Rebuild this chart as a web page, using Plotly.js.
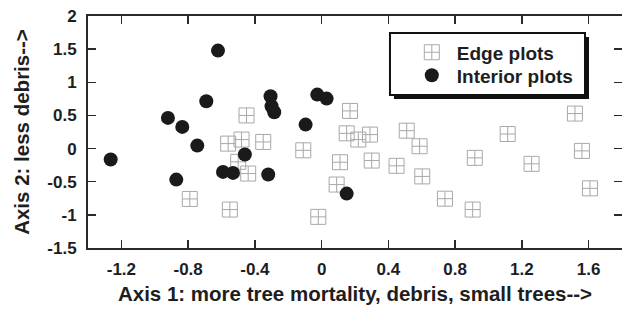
<!DOCTYPE html>
<html>
<head>
<meta charset="utf-8">
<script src="https://cdn.plot.ly/plotly-3.0.1.min.js"></script>
<style>
  html, body { margin: 0; padding: 0; background: #ffffff; }
  #chart { width: 622px; height: 312px; }
</style>
</head>
<body>
<div id="chart"></div>
<script>
// Edge plots (open squares with cross)
const edgeX = [-0.79, -0.55, -0.56, -0.48, -0.35, -0.45, -0.50, -0.44, -0.11, -0.02,
               0.09, 0.11, 0.17, 0.15, 0.22, 0.29, 0.30, 0.51, 0.587, 0.449,
               0.603, 0.739, 0.905, 0.918, 1.115, 1.258, 1.518, 1.56, 1.608];
const edgeY = [-0.76, -0.92, 0.075, 0.136, 0.10, 0.50, -0.20, -0.377, -0.026, -1.03,
               -0.543, -0.206, 0.568, 0.23, 0.136, 0.211, -0.181, 0.27, 0.035, -0.26,
               -0.42, -0.756, -0.92, -0.14, 0.22, -0.23, 0.528, -0.035, -0.60];

// Interior plots (filled circles)
const interiorX = [-0.621, -0.691, -0.921, -0.835, -0.745, -1.264, -0.871, -0.591, -0.531,
                   -0.306, -0.300, -0.284, -0.026, 0.030, -0.096, -0.460, -0.320, 0.150];
const interiorY = [1.478, 0.713, 0.463, 0.327, 0.045, -0.166, -0.468, -0.352, -0.367,
                   0.789, 0.638, 0.548, 0.814, 0.754, 0.362, -0.090, -0.392, -0.679];

const seriesNames = ["Edge plots", "Interior plots"];

const xTickVals = [-1.2, -0.8, -0.4, 0, 0.4, 0.8, 1.2, 1.6];
const xTickText = ["-1.2", "-0.8", "-0.4", "0", "0.4", "0.8", "1.2", "1.6"];
const yTickVals = [-1.5, -1, -0.5, 0, 0.5, 1, 1.5, 2];
const yTickText = ["-1.5", "-1", "-0.5", "0", "0.5", "1", "1.5", "2"];

const xTitle = "Axis 1: more tree mortality, debris, small trees-->";
const yTitle = "Axis 2: less debris-->";

const FONT = "Liberation Sans, Arial, Helvetica, sans-serif";
const INK = "#1e1e1e";

const traces = [
  {
    x: edgeX, y: edgeY, name: seriesNames[0], type: "scatter", mode: "markers", legend: "legend",
    marker: { symbol: "square-cross-open", size: 15, color: "#a8a8a8", line: { width: 1, color: "#a8a8a8" } }
  },
  {
    x: interiorX, y: interiorY, name: seriesNames[1], type: "scatter", mode: "markers", legend: "legend2",
    marker: { symbol: "circle", size: 14, color: "#1a1a1a", line: { width: 0 } }
  }
];

const axisCommon = {
  showgrid: false, zeroline: false, showline: true, linewidth: 2, linecolor: "#2a2a2a",
  mirror: "ticks", ticks: "inside", ticklen: 8, tickwidth: 1.5, tickcolor: "#2a2a2a",
  tickmode: "array", automargin: false,
  tickfont: { family: FONT, size: 17, color: INK, weight: 700 }
};

const legendCommon = {
  xanchor: "left", yanchor: "top",
  bgcolor: "rgba(0,0,0,0)", borderwidth: 0, itemwidth: 40,
  font: { family: FONT, size: 19, color: INK, weight: 700 }
};

const layout = {
  width: 622, height: 312,
  margin: { l: 88, r: 0, t: 16, b: 64, pad: 0 },
  paper_bgcolor: "#ffffff", plot_bgcolor: "#ffffff",
  font: { family: FONT, color: INK },
  showlegend: true,
  xaxis: Object.assign({}, axisCommon, {
    range: [-1.4, 1.8], tickvals: xTickVals, ticktext: xTickText,
    ticklabelstandoff: 5,
    title: { text: xTitle, font: { family: FONT, size: 20.5, color: INK, weight: 700 }, standoff: 8 }
  }),
  yaxis: Object.assign({}, axisCommon, {
    range: [-1.5, 2], tickvals: yTickVals, ticktext: yTickText,
    ticklabelstandoff: 6,
    title: { text: yTitle, font: { family: FONT, size: 20.5, color: INK, weight: 700 }, standoff: 12 }
  }),
  legend: Object.assign({}, legendCommon, { x: 0.597, y: 0.925 }),
  legend2: Object.assign({}, legendCommon, { x: 0.597, y: 0.826 }),
  shapes: [
    { type: "rect", xref: "paper", yref: "paper", x0: 0.5730, x1: 0.9382, y0: 0.6422, y1: 0.9095,
      fillcolor: "#111111", line: { width: 0 }, layer: "above" },
    { type: "rect", xref: "paper", yref: "paper", x0: 0.5655, x1: 0.9307, y0: 0.6595, y1: 0.9267,
      fillcolor: "#ffffff", line: { width: 2, color: "#111111" }, layer: "above" }
  ]
};

Plotly.newPlot("chart", traces, layout, { displayModeBar: false, staticPlot: true });
</script>
</body>
</html>
